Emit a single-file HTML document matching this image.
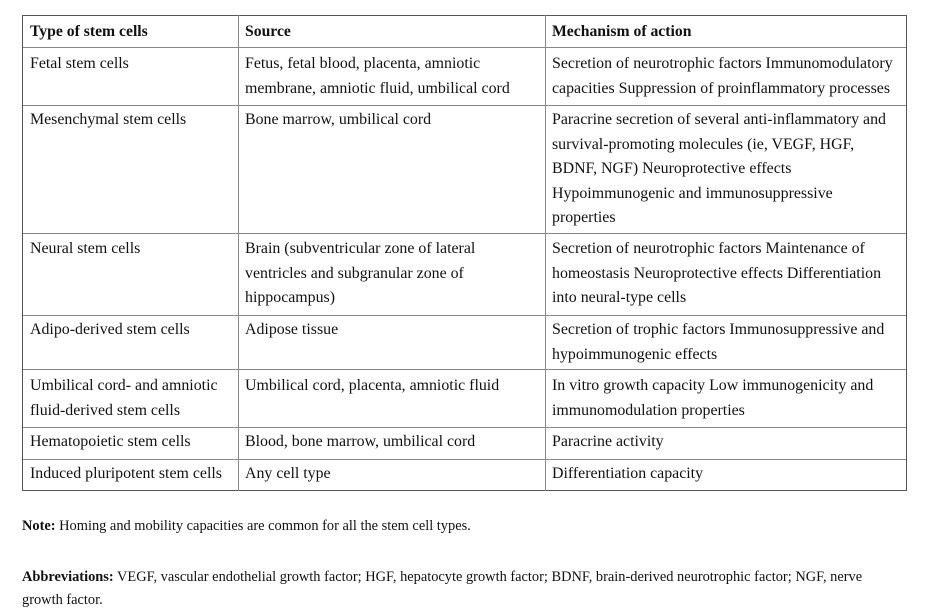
<!DOCTYPE html>
<html><head><style>
body{margin:0;background:#fff;width:929px;height:612px;position:relative;font-family:"Liberation Serif",serif;color:#111;font-size:15.9px;overflow:hidden}
.h{position:absolute;background:#888;height:1px}
.v{position:absolute;background:#888;width:1px}
.t{position:absolute;line-height:24.5px;white-space:nowrap;margin-top:1px}
b{font-weight:bold}
.t b{font-size:15.7px}
.n{position:absolute;font-size:14.4px;left:22px;white-space:nowrap}
</style></head><body>
<div class="h" style="left:22px;width:885px;top:15px;background:#555"></div>
<div class="h" style="left:22px;width:885px;top:47px"></div>
<div class="h" style="left:22px;width:885px;top:105px"></div>
<div class="h" style="left:22px;width:885px;top:233px"></div>
<div class="h" style="left:22px;width:885px;top:315px"></div>
<div class="h" style="left:22px;width:885px;top:369px"></div>
<div class="h" style="left:22px;width:885px;top:427px"></div>
<div class="h" style="left:22px;width:885px;top:459px"></div>
<div class="h" style="left:22px;width:885px;top:490px;background:#555"></div>
<div class="v" style="left:22px;top:15px;height:476px;background:#555"></div>
<div class="v" style="left:238px;top:15px;height:476px"></div>
<div class="v" style="left:545px;top:15px;height:476px"></div>
<div class="v" style="left:906px;top:15px;height:476px;background:#555"></div>

<div class="t" style="left:30px;top:19px"><b>Type of stem cells</b></div>
<div class="t" style="left:245px;top:19px"><b>Source</b></div>
<div class="t" style="left:552px;top:19px"><b>Mechanism of action</b></div>

<div class="t" style="left:30px;top:51px">Fetal stem cells</div>
<div class="t" style="left:245px;top:51px">Fetus, fetal blood, placenta, amniotic<br>membrane, amniotic fluid, umbilical cord</div>
<div class="t" style="left:552px;top:51px">Secretion of neurotrophic factors Immunomodulatory<br>capacities Suppression of proinflammatory processes</div>

<div class="t" style="left:30px;top:107px">Mesenchymal stem cells</div>
<div class="t" style="left:245px;top:107px">Bone marrow, umbilical cord</div>
<div class="t" style="left:552px;top:107px">Paracrine secretion of several anti-inflammatory and<br>survival-promoting molecules (ie, VEGF, HGF,<br>BDNF, NGF) Neuroprotective effects<br>Hypoimmunogenic and immunosuppressive<br>properties</div>

<div class="t" style="left:30px;top:236px">Neural stem cells</div>
<div class="t" style="left:245px;top:236px">Brain (subventricular zone of lateral<br>ventricles and subgranular zone of<br>hippocampus)</div>
<div class="t" style="left:552px;top:236px">Secretion of neurotrophic factors Maintenance of<br>homeostasis Neuroprotective effects Differentiation<br>into neural-type cells</div>

<div class="t" style="left:30px;top:317px">Adipo-derived stem cells</div>
<div class="t" style="left:245px;top:317px">Adipose tissue</div>
<div class="t" style="left:552px;top:317px">Secretion of trophic factors Immunosuppressive and<br>hypoimmunogenic effects</div>

<div class="t" style="left:30px;top:373px">Umbilical cord- and amniotic<br>fluid-derived stem cells</div>
<div class="t" style="left:245px;top:373px">Umbilical cord, placenta, amniotic fluid</div>
<div class="t" style="left:552px;top:373px">In vitro growth capacity Low immunogenicity and<br>immunomodulation properties</div>

<div class="t" style="left:30px;top:429px">Hematopoietic stem cells</div>
<div class="t" style="left:245px;top:429px">Blood, bone marrow, umbilical cord</div>
<div class="t" style="left:552px;top:429px">Paracrine activity</div>

<div class="t" style="left:30px;top:461px">Induced pluripotent stem cells</div>
<div class="t" style="left:245px;top:461px">Any cell type</div>
<div class="t" style="left:552px;top:461px">Differentiation capacity</div>

<div class="n" style="top:518px"><b>Note:</b> Homing and mobility capacities are common for all the stem cell types.</div>
<div class="n" style="top:566px;line-height:23px"><b>Abbreviations:</b> VEGF, vascular endothelial growth factor; HGF, hepatocyte growth factor; BDNF, brain-derived neurotrophic factor; NGF, nerve<br>growth factor.</div>
</body></html>
